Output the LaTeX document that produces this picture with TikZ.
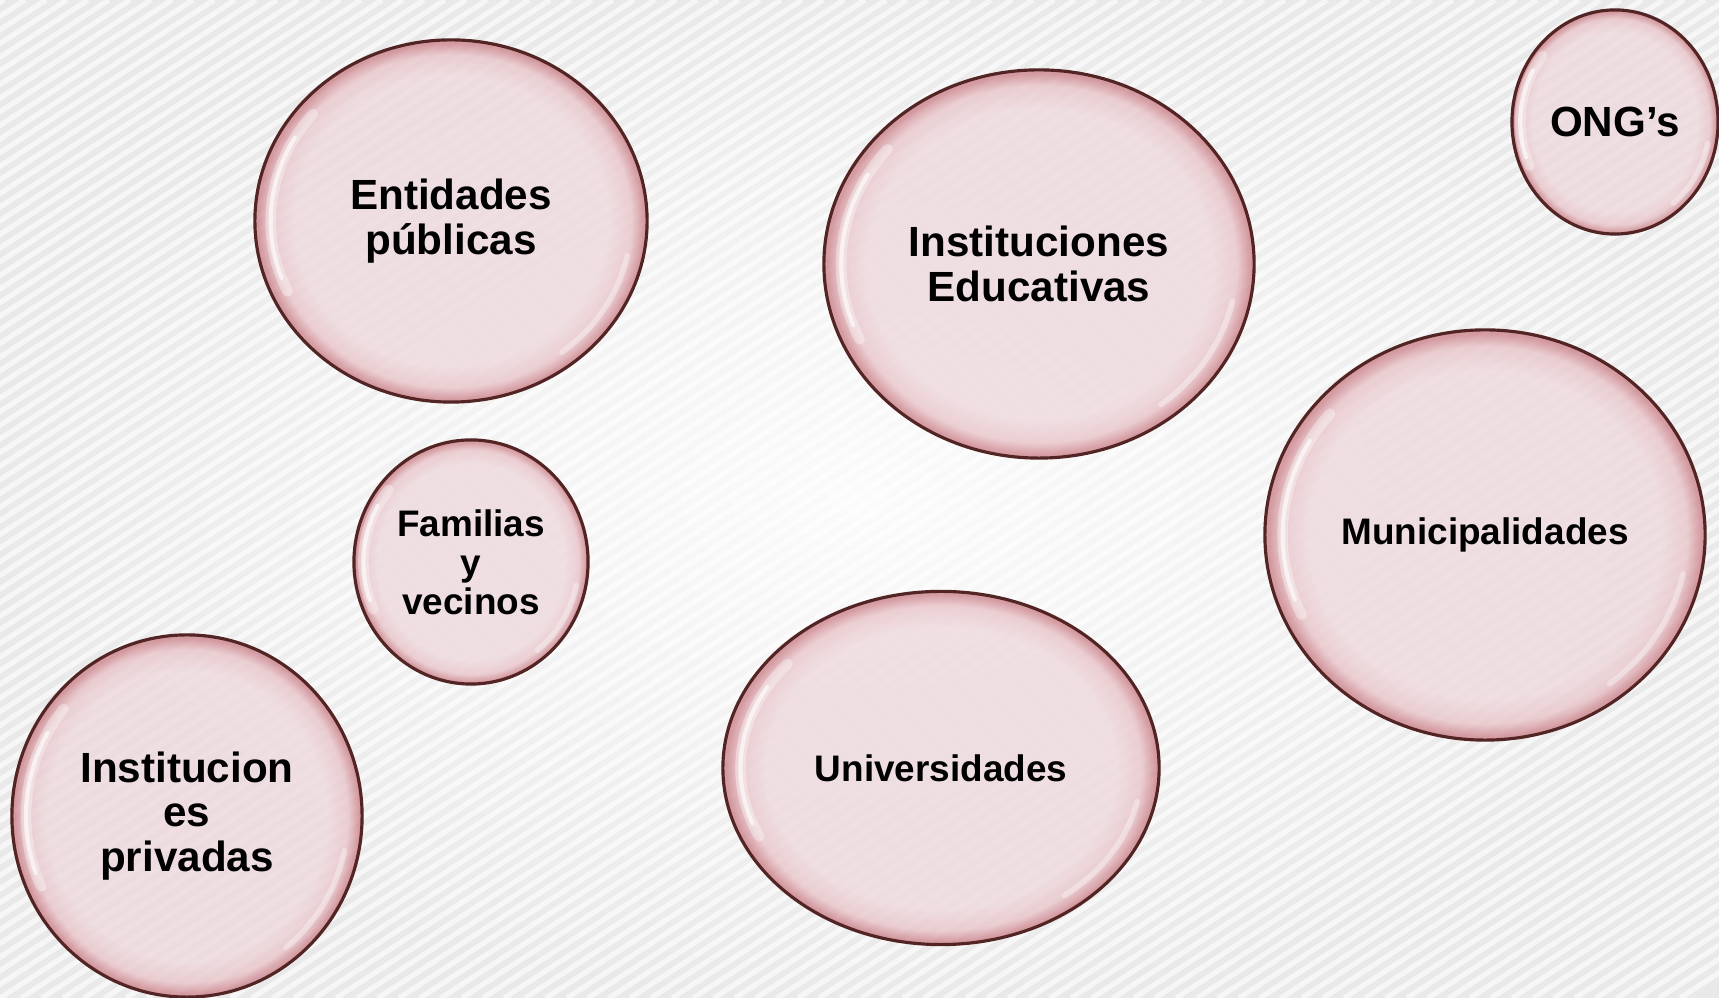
\documentclass[tikz,border=0pt]{standalone}
\usepackage{fontspec}
\setmainfont{Liberation Sans}
\usetikzlibrary{shapes.geometric}
\definecolor{bubblein}{RGB}{238,217,221}
\definecolor{bubblemid}{RGB}{232,196,201}
\definecolor{bubblerim}{RGB}{204,132,140}
\definecolor{bubbleline}{RGB}{82,36,36}
\pgfdeclareradialshading{bubble}{\pgfpoint{0bp}{0bp}}{color(0bp)=(bubblein); color(20bp)=(bubblein); color(23bp)=(bubblemid); color(24.6bp)=(bubblerim); color(25bp)=(bubblerim); color(50bp)=(bubblerim)}

\begin{document}
\begin{tikzpicture}[x=0.01cm, y=0.01cm,
  actor/.style={ellipse, draw=bubbleline, line width=0.9pt, shade, shading=bubble, fill opacity=0.8, text opacity=1, inner sep=0pt, align=center, font=\bfseries\fontsize{12}{12.6}\selectfont},
  actorsmall/.style={actor, font=\bfseries\fontsize{10.5}{11.1}\selectfont},
  stripe/.style={white, line width=1.5pt, opacity=0.6},
  shine/.style={white, line width=3pt, opacity=0.35, line cap=round}]
\useasboundingbox (0,0) rectangle (1719,998);
% background
\shade[inner color=gray!3, outer color=gray!17] (0,0) rectangle (1719,998);
\begin{scope}
\clip (0,0) rectangle (1719,998);
\foreach \i in {-75,...,80}
  \draw[stripe] (\i*21,0) -- ++(1537,998);
\end{scope}
% actors
\node[actor, minimum width=3.92cm, minimum height=3.62cm] (entidades) at (451,777) {Entidades\\públicas};
\node[actor, minimum width=4.30cm, minimum height=3.88cm] (educativas) at (1039,734) {Instituciones\\Educativas};
\node[actor, minimum width=2.06cm, minimum height=2.24cm] (ongs) at (1615,876) {ONG’s};
\node[actorsmall, minimum width=2.34cm, minimum height=2.44cm] (familias) at (471,436) {Familias\\y\\vecinos};
\node[actorsmall, minimum width=4.40cm, minimum height=4.10cm] (municipios) at (1485,463) {Municipalidades};
\node[actorsmall, minimum width=4.36cm, minimum height=3.53cm] (universidades) at (941,230) {Universidades};
\node[actor, minimum width=3.50cm, minimum height=3.62cm] (privadas) at (187,182) {Institucion\\es\\privadas};
% highlights
\foreach \n/\rx/\ry in {entidades/196/181, educativas/215/194, ongs/103/112, familias/117/122, municipios/220/205, universidades/218/176, privadas/175/181} {
  \draw[shine] (\n.center) ++(205:{0.92*\rx} and {0.92*\ry}) arc[start angle=205, end angle=140, x radius=0.92*\rx, y radius=0.92*\ry];
  \draw[shine, line width=1.2pt, opacity=0.6] (\n.center) ++(200:{0.92*\rx} and {0.92*\ry}) arc[start angle=200, end angle=150, x radius=0.92*\rx, y radius=0.92*\ry];
  \draw[shine, line width=1.6pt] (\n.center) ++(-52:{0.92*\rx} and {0.92*\ry}) arc[start angle=-52, end angle=-12, x radius=0.92*\rx, y radius=0.92*\ry];
}
\end{tikzpicture}
\end{document}
